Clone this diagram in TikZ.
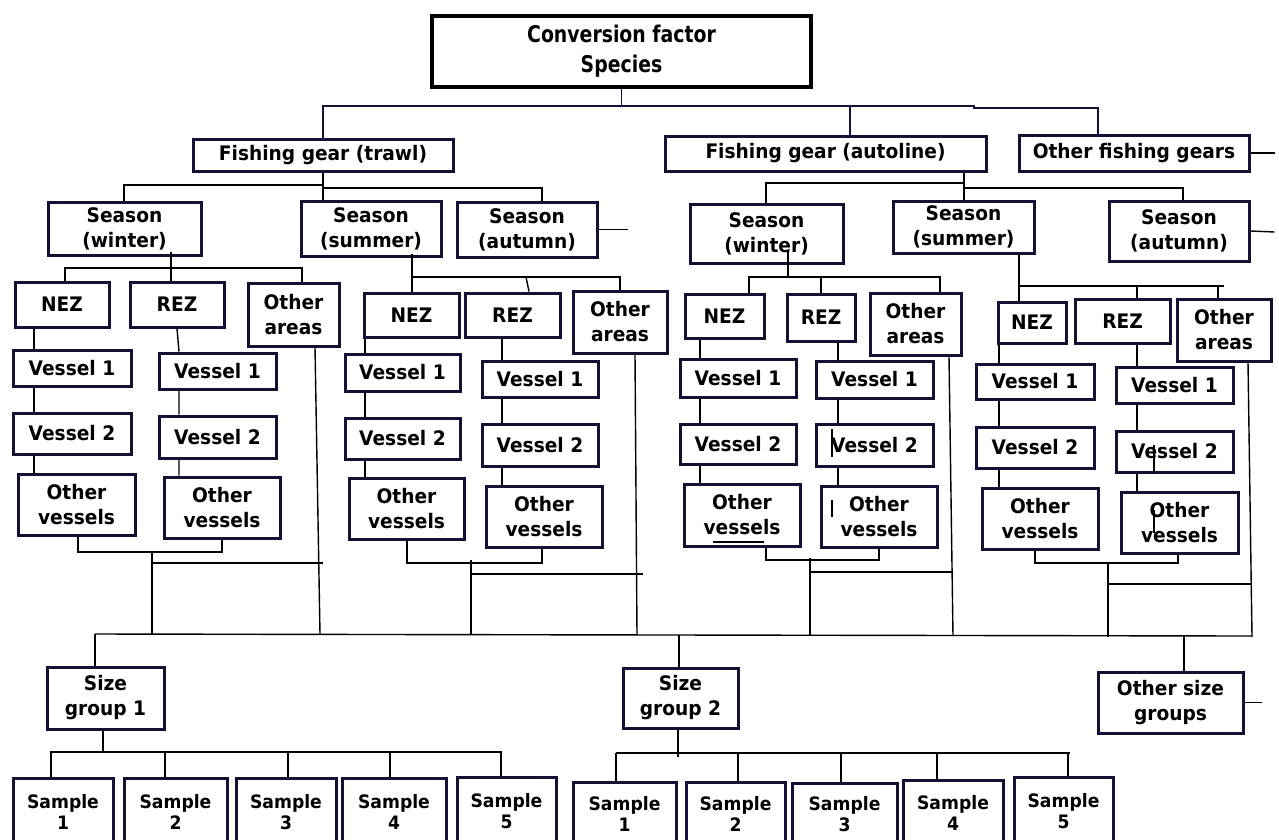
\documentclass[tikz,border=0pt]{standalone}
\usepackage{fontspec}
\setmainfont[FakeStretch=0.93]{DejaVu Sans}
\newfontfamily\titlefont[FakeStretch=0.82]{DejaVu Sans}
\usetikzlibrary{calc}
\definecolor{navy}{RGB}{22,16,52}
% box from its corners: [style]{name}{x1}{y1}{x2}{y2}{text}
\newcommand{\bx}[7][]{%
  \node[box,#1,minimum width={(#5-#3)*1pt},minimum height={(#6-#4)*1pt}]
    (#2) at ({(#3+#5)/2},{(#4+#6)/2}) {#7};}
\begin{document}
\begin{tikzpicture}
    [   x = 1pt
    ,   y = -1pt
    ,   box/.style =
        {   draw = navy
        ,   line width = 3pt
        ,   inner sep = 0pt
        ,   align = center
        ,   font = \bfseries\fontsize{20}{25}\selectfont
        }
    ,   title/.style =
        {   draw = black
        ,   line width = 3.5pt
        ,   font = \titlefont\bfseries\fontsize{23}{30}\selectfont
        }
    ,   sample/.style =
        {   font = \bfseries\fontsize{18.5}{21}\selectfont
        }
    ,   link/.style = {line width = 1.4pt}
    ]
    \useasboundingbox (0,0) rectangle (1279,839);
    \clip (0,0) rectangle (1279,839);

    % species and gears
    \bx[title]{top}{432}{16}{811}{87}{Conversion factor\\Species}
    \bx{trawl}{193}{139}{453}{171}{Fishing gear (trawl)}
    \bx{autoline}{665}{136}{986}{171}{Fishing gear (autoline)}
    \bx{othergear}{1019}{135}{1249}{171}{Other fishing gears}

    % seasons
    \bx{tWin}{48}{202}{201}{255}{Season\\(winter)}
    \bx{tSum}{301}{201}{441}{256}{Season\\(summer)}
    \bx{tAut}{457}{202}{597}{257}{Season\\(autumn)}
    \bx{aWin}{690}{204}{843}{263}{Season\\(winter)}
    \bx{aSum}{893}{201}{1034}{253}{Season\\(summer)}
    \bx{aAut}{1109}{201}{1249}{261}{Season\\(autumn)}

    % trawl, winter
    \bx{twNEZ}{15}{282}{109}{327}{NEZ}
    \bx{twREZ}{130}{282}{224}{327}{REZ}
    \bx{twOth}{248}{283}{339}{346}{Other\\areas}
    \bx{twN1}{13}{350}{131}{386}{Vessel 1}
    \bx{twN2}{13}{413}{131}{454}{Vessel 2}
    \bx{twN3}{18}{474}{135}{535}{Other\\vessels}
    \bx{twR1}{159}{353}{276}{389}{Vessel 1}
    \bx{twR2}{159}{416}{276}{458}{Vessel 2}
    \bx{twR3}{164}{477}{280}{538}{Other\\vessels}

    % trawl, summer
    \bx{tsNEZ}{364}{293}{459}{337}{NEZ}
    \bx{tsREZ}{465}{293}{560}{337}{REZ}
    \bx{tsOth}{573}{291}{667}{353}{Other\\areas}
    \bx{tsN1}{345}{354}{460}{391}{Vessel 1}
    \bx{tsN2}{345}{418}{460}{459}{Vessel 2}
    \bx{tsN3}{349}{478}{464}{539}{Other\\vessels}
    \bx{tsR1}{482}{361}{598}{397}{Vessel 1}
    \bx{tsR2}{482}{424}{598}{466}{Vessel 2}
    \bx{tsR3}{486}{486}{602}{547}{Other\\vessels}

    % autoline, winter
    \bx{awNEZ}{685}{294}{764}{338}{NEZ}
    \bx{awREZ}{787}{294}{855}{341}{REZ}
    \bx{awOth}{870}{293}{961}{355}{Other\\areas}
    \bx{awN1}{680}{359}{796}{397}{Vessel 1}
    \bx{awN2}{680}{424}{796}{464}{Vessel 2}
    \bx{awN3}{684}{484}{800}{546}{Other\\vessels}
    \bx{awR1}{816}{361}{933}{398}{Vessel 1}
    \bx{awR2}{816}{424}{933}{466}{Vessel 2}
    \bx{awR3}{821}{486}{937}{547}{Other\\vessels}

    % autoline, summer
    \bx{asNEZ}{998}{302}{1066}{343}{NEZ}
    \bx{asREZ}{1075}{299}{1170}{343}{REZ}
    \bx{asOth}{1177}{299}{1271}{361}{Other\\areas}
    \bx{asN1}{976}{364}{1094}{399}{Vessel 1}
    \bx{asN2}{976}{427}{1094}{468}{Vessel 2}
    \bx{asN3}{982}{488}{1098}{549}{Other\\vessels}
    \bx{asR1}{1116}{367}{1233}{403}{Vessel 1}
    \bx{asR2}{1116}{431}{1233}{472}{Vessel 2}
    \bx{asR3}{1121}{492}{1238}{553}{Other\\vessels}

    % size groups and samples
    \bx{sizeA}{47}{667}{164}{729}{Size\\group 1}
    \bx{sizeB}{623}{668}{738}{728}{Size\\group 2}
    \bx{sizeC}{1098}{672}{1243}{733}{Other size\\groups}
    \foreach \n/\l/\r/\t in {1/13/113/778,2/124/227/778,3/236/336/778,4/342/446/778,5/457/556/777}
        {\bx[sample]{sA\n}{\l}{\t}{\r}{846}{Sample\\\n}}
    \foreach \n/\l/\r/\t in {1/573/676/782,2/686/785/782,3/792/897/783,4/903/1003/780,5/1014/1113/777}
        {\bx[sample]{sB\n}{\l}{\t}{\r}{846}{Sample\\\n}}

    % species to gears
    \coordinate (tA) at (323,106);
    \coordinate (tB) at (974,106);
    \coordinate (tC) at (1098,108);
    \draw[link, navy] (top.south) -- (top.south |- tA);
    \draw[link, navy] (trawl.north -| tA) -- (tA) -- (tB) -- (tB |- tC) -- (tC) -- (othergear.north -| tC);
    \draw[link, navy] (850,106) -- (autoline.north -| 850,0);
    \draw[link] (othergear.east) -- ++(24,0);

    % gears to seasons
    \draw[link] (trawl.south -| 323,0) -- (tSum.north -| 323,0);
    \draw[link] (tWin.north -| 124,0) |- (323,185);
    \draw[link] (323,188) -| (tAut.north -| 542,0);
    \draw[link] (tAut.east) -- ++(29,0);
    \draw[link] (autoline.south -| 964,0) -- (aSum.north -| 964,0);
    \draw[link] (aWin.north -| 766,0) |- (964,183);
    \draw[link] (964,188) -| (aAut.north -| 1183,0);
    \draw[link] (aAut.east) -- ++(24,1);

    % trawl, winter
    \draw[link] ($(tWin.south -| 171,0)+(0,-5)$) -- (twREZ.north -| 171,0);
    \draw[link] (twNEZ.north -| 65,0) |- (302,268) -- (twOth.north -| 302,0);
    \draw[link] (twNEZ.south -| 34,0) -- (twN1.north -| 34,0)
                (twN1.south -| 34,0) -- (twN2.north -| 34,0)
                (twN2.south -| 34,0) -- (twN3.north -| 34,0);
    \draw[link] (twREZ.south -| 177,0) -- (twR1.north -| 179,0)
                (twR1.south -| 179,0) -- (twR2.north -| 179,0)
                (twR2.south -| 179,0) -- (twR3.north -| 179,0);
    \draw[link] (twN3.south -| 78,0) |- (222,552) -- (twR3.south -| 222,0);
    \draw[link] (152,552) -- (152,634);
    \draw[link] (152,563) -- (323,563);
    \draw[link] (twOth.south -| 315,0) -- (320,634);

    % trawl, summer
    \draw[link] ($(tSum.south -| 412,0)+(0,-4)$) -- (tsNEZ.north -| 412,0);
    \draw[link] (412,277) -- (620,277) -- (tsOth.north -| 620,0);
    \draw[link] (526,277) -- (tsREZ.north -| 529,0);
    \draw[link] (tsNEZ.south -| 365,0) -- (tsN1.north -| 365,0)
                (tsN1.south -| 365,0) -- (tsN2.north -| 365,0)
                (tsN2.south -| 365,0) -- (tsN3.north -| 365,0);
    \draw[link] (tsREZ.south -| 502,0) -- (tsR1.north -| 502,0)
                (tsR1.south -| 502,0) -- (tsR2.north -| 502,0)
                (tsR2.south -| 502,0) -- (tsR3.north -| 502,0);
    \draw[link] (tsN3.south -| 407,0) |- (542,563) -- (tsR3.south -| 542,0);
    \draw[link] (471,560) -- (471,635);
    \draw[link] (471,574) -- (643,574);
    \draw[link] (tsOth.south -| 635,0) -- (637,635);

    % autoline, winter
    \draw[link] ($(aWin.south -| 788,0)+(0,-15)$) -- (788,277);
    \draw[link] (awNEZ.north -| 749,0) |- (940,277) -- (awOth.north -| 940,0);
    \draw[link] (821,277) -- (awREZ.north -| 821,0);
    \draw[link] (awNEZ.south -| 700,0) -- (awN1.north -| 700,0)
                (awN1.south -| 700,0) -- (awN2.north -| 700,0)
                (awN2.south -| 700,0) -- (awN3.north -| 700,0);
    \draw[link] (awREZ.south -| 838,0) -- (awR1.north -| 838,0)
                (awR1.south -| 838,0) -- (awR2.north -| 838,0)
                (awR2.south -| 838,0) -- (awR3.north -| 838,0);
    \draw[link] (awN3.south -| 766,0) |- (879,560) -- (awR3.south -| 879,0);
    \draw[link] (810,558) -- (810,636);
    \draw[link] (810,572) -- (953,572);
    \draw[link] (awOth.south -| 949,0) -- (953,636);
    \draw[link] (713,542) -- (764,542);
    \draw[link] (832,429) -- (832,457);
    \draw[link] (832,500) -- (832,517);

    % autoline, summer
    \draw[link] (aSum.south -| 1019,0) -- (asNEZ.north -| 1019,0);
    \draw[link] (1019,286) -- (1224,286);
    \draw[link] (1137,286) -- (asREZ.north -| 1137,0);
    \draw[link] (1218,286) -- (asOth.north -| 1218,0);
    \draw[link] (asNEZ.south -| 999,0) -- (asN1.north -| 999,0)
                (asN1.south -| 999,0) -- (asN2.north -| 999,0)
                (asN2.south -| 999,0) -- (asN3.north -| 999,0);
    \draw[link] (asREZ.south -| 1137,0) -- (asR1.north -| 1137,0)
                (asR1.south -| 1137,0) -- (asR2.north -| 1137,0)
                (asR2.south -| 1137,0) -- (asR3.north -| 1137,0);
    \draw[link] (asN3.south -| 1035,0) |- (1178,563) -- (asR3.south -| 1178,0);
    \draw[link] (1108,563) -- (1108,637);
    \draw[link] (1108,584) -- (1252,584);
    \draw[link] (asOth.south -| 1248,0) -- (1252,637);
    \draw[link] (1154,445) -- (1154,473);
    \draw[link] (1154,510) -- (1154,533);

    % areas to size groups
    \coordinate (mA) at (95,634);
    \coordinate (mB) at (1252,636);
    \draw[link] (mA) -- (mB);
    \draw[link] (mA) -- (sizeA.north -| mA);
    \draw[link] (679,635) -- (sizeB.north -| 679,0);
    \draw[link] (1184,636) -- (sizeC.north -| 1184,0);
    \draw[link] (sizeC.east) -- ++(17,0);

    % size groups to samples
    \draw[link] (sizeA.south -| 103,0) -- (103,752);
    \draw[link] (50,752) -- (502,752);
    \foreach \n/\x in {1/51,2/165,3/288,4/390,5/501}
        \draw[link] (\x,752) -- (sA\n.north -| \x,0);
    \draw[link] (sizeB.south -| 678,0) -- (678,757);
    \draw[link] (616,753) -- (1070,753);
    \foreach \n/\x in {1/616,2/738,3/841,4/937,5/1068}
        \draw[link] (\x,753) -- (sB\n.north -| \x,0);
\end{tikzpicture}
\end{document}
